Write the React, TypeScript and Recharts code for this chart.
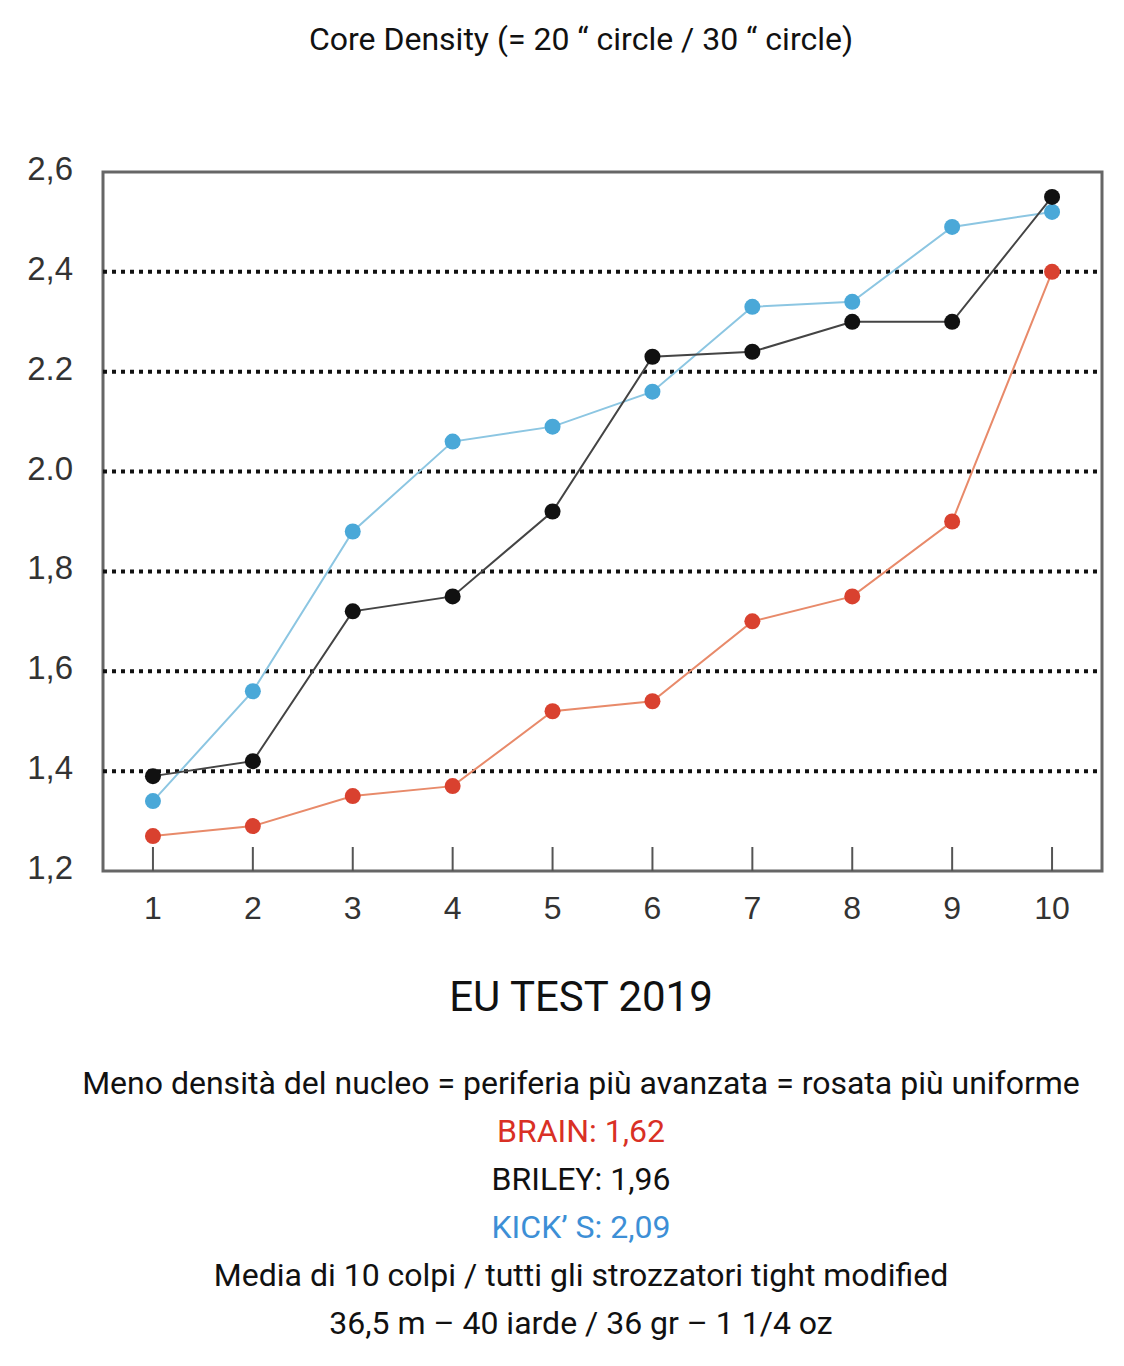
import React from "react";
import { LineChart, Line, XAxis, YAxis, ReferenceLine, ReferenceArea } from "recharts";

const shots = [1, 2, 3, 4, 5, 6, 7, 8, 9, 10];
const briley = [1.39, 1.42, 1.72, 1.75, 1.92, 2.23, 2.24, 2.3, 2.3, 2.55];
const kicks = [1.34, 1.56, 1.88, 2.06, 2.09, 2.16, 2.33, 2.34, 2.49, 2.52];
const brain = [1.27, 1.29, 1.35, 1.37, 1.52, 1.54, 1.7, 1.75, 1.9, 2.4];
const yTicks = [1.2, 1.4, 1.6, 1.8, 2.0, 2.2, 2.4, 2.6];
const yLabels = ["1,2", "1,4", "1,6", "1,8", "2.0", "2.2", "2,4", "2,6"];
const gridValues = [1.4, 1.6, 1.8, 2.0, 2.2, 2.4];

const data = shots.map((s, i) => ({ shot: s, briley: briley[i], kicks: kicks[i], brain: brain[i] }));

const XTick = (p: any) => (
  <g>
    <line x1={p.x} x2={p.x} y1={p.y - 26} y2={p.y - 2} stroke="#555" strokeWidth={2} />
    <text x={p.x} y={p.y + 46} textAnchor="middle" fontSize={32} fill="#333" fontFamily="Liberation Sans, Arial">
      {p.payload.value}
    </text>
  </g>
);
const YTick = (p: any) => (
  <text x={p.x - 28} y={p.y + 8} textAnchor="end" fontSize={33} fill="#333" fontFamily="Liberation Sans, Arial">
    {yLabels[yTicks.indexOf(p.payload.value)]}
  </text>
);

const line = { fontSize: 32, lineHeight: "48px" };

export default function App() {
  return (
    <div style={{ position: "absolute", left: 0, top: 0, width: 1124, height: 1366, background: "#fff", fontFamily: "Roboto, sans-serif", color: "#111" }}>
      <div style={{ position: "absolute", top: 20, width: 1162, textAlign: "center", fontSize: 32 }}>
        Core Density (= 20 “ circle / 30 “ circle)
      </div>
      <div style={{ position: "absolute", top: 0, left: 0 }}>
        <LineChart width={1124} height={930} data={data} margin={{ top: 172, right: 22, bottom: 58, left: 0 }}>
          <XAxis dataKey="shot" type="number" domain={[0.5, 10.5]} ticks={shots} tickSize={0} tick={<XTick />} axisLine={false} height={1} />
          <YAxis type="number" domain={[1.2, 2.6]} ticks={yTicks} tickSize={0} tick={<YTick />} axisLine={false} width={103} />
          <ReferenceArea x1={0.5} x2={10.5} y1={1.2} y2={2.6} fill="none" stroke="#666" strokeWidth={3} />
          {gridValues.map((v) => (
            <ReferenceLine key={v} y={v} stroke="#111" strokeWidth={4} strokeDasharray="4 5" />
          ))}
          <Line dataKey="kicks" stroke="#8cc6e2" strokeWidth={2} dot={{ r: 8, fill: "#4aa8d8", stroke: "none" }} isAnimationActive={false} />
          <Line dataKey="briley" stroke="#444" strokeWidth={2} dot={{ r: 8, fill: "#111", stroke: "none" }} isAnimationActive={false} />
          <Line dataKey="brain" stroke="#e88a6a" strokeWidth={2} dot={{ r: 8, fill: "#d9412f", stroke: "none" }} isAnimationActive={false} />
        </LineChart>
      </div>
      <div style={{ position: "absolute", top: 972, width: 1162, textAlign: "center", fontSize: 42 }}>EU TEST 2019</div>
      <div style={{ position: "absolute", top: 1059, width: 1162, textAlign: "center", ...line }}>
        <div>Meno densità del nucleo = periferia più avanzata = rosata più uniforme</div>
        <div style={{ color: "#d93025" }}>BRAIN: 1,62</div>
        <div>BRILEY: 1,96</div>
        <div style={{ color: "#3d8fd6" }}>KICK’ S: 2,09</div>
        <div>Media di 10 colpi / tutti gli strozzatori tight modified</div>
        <div>36,5 m – 40 iarde / 36 gr – 1 1/4 oz</div>
      </div>
    </div>
  );
}
